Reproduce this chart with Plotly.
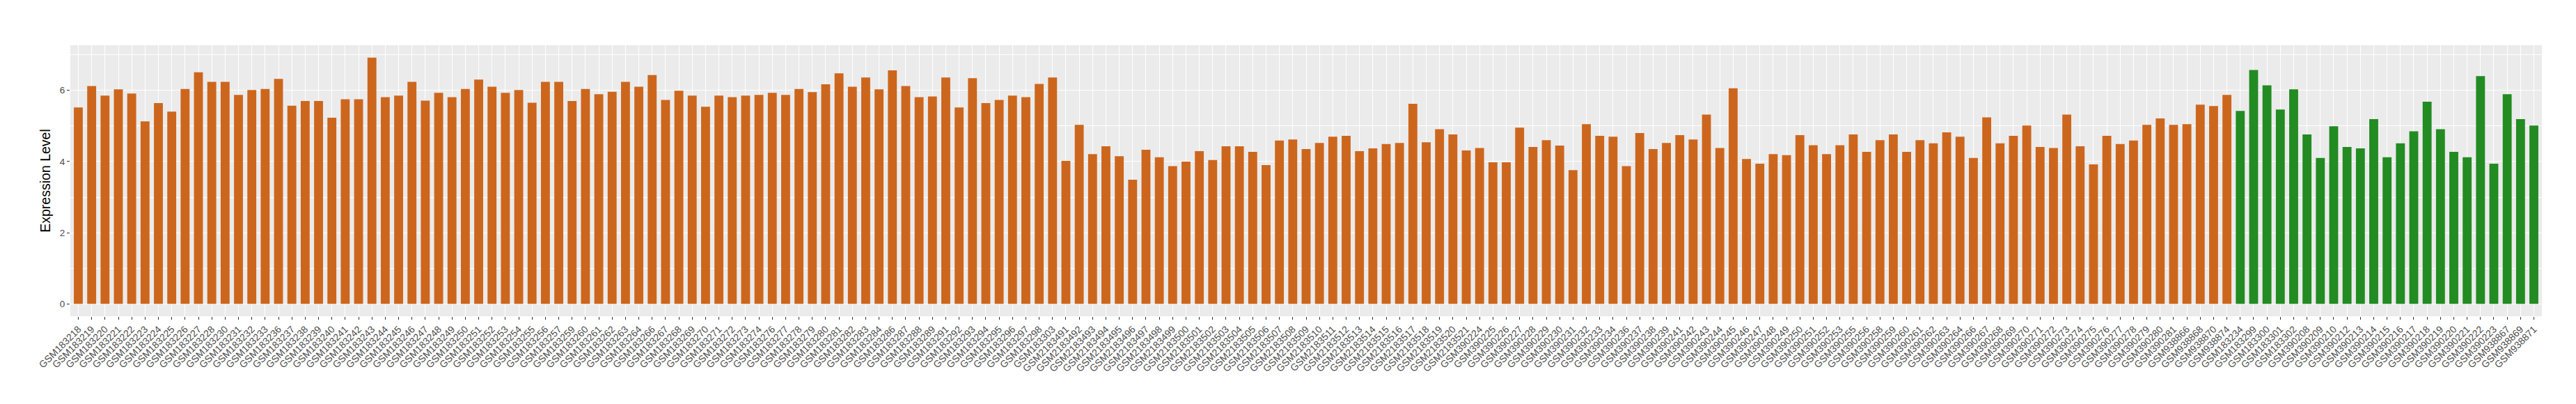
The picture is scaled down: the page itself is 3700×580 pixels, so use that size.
import plotly.graph_objects as go

samples_orange = [
    "GSM183218", "GSM183219", "GSM183220", "GSM183221", "GSM183222", "GSM183223", "GSM183224", "GSM183225",
    "GSM183226", "GSM183227", "GSM183228", "GSM183230", "GSM183231", "GSM183232", "GSM183233", "GSM183236",
    "GSM183237", "GSM183238", "GSM183239", "GSM183240", "GSM183241", "GSM183242", "GSM183243", "GSM183244",
    "GSM183245", "GSM183246", "GSM183247", "GSM183248", "GSM183249", "GSM183250", "GSM183251", "GSM183252",
    "GSM183253", "GSM183254", "GSM183255", "GSM183256", "GSM183257", "GSM183259", "GSM183260", "GSM183261",
    "GSM183262", "GSM183263", "GSM183264", "GSM183266", "GSM183267", "GSM183268", "GSM183269", "GSM183270",
    "GSM183271", "GSM183272", "GSM183273", "GSM183274", "GSM183276", "GSM183277", "GSM183278", "GSM183279",
    "GSM183280", "GSM183281", "GSM183282", "GSM183283", "GSM183284", "GSM183286", "GSM183287", "GSM183288",
    "GSM183289", "GSM183291", "GSM183292", "GSM183293", "GSM183294", "GSM183295", "GSM183296", "GSM183297",
    "GSM183298", "GSM183303",
    "GSM2183491", "GSM2183492", "GSM2183493", "GSM2183494", "GSM2183495", "GSM2183496", "GSM2183497",
    "GSM2183498", "GSM2183499", "GSM2183500", "GSM2183501", "GSM2183502", "GSM2183503", "GSM2183504",
    "GSM2183505", "GSM2183506", "GSM2183507", "GSM2183508", "GSM2183509", "GSM2183510", "GSM2183511",
    "GSM2183512", "GSM2183513", "GSM2183514", "GSM2183515", "GSM2183516", "GSM2183517", "GSM2183518",
    "GSM2183519", "GSM2183520", "GSM2183521",
    "GSM390224", "GSM390225", "GSM390226", "GSM390227", "GSM390228", "GSM390229", "GSM390230", "GSM390231",
    "GSM390232", "GSM390233", "GSM390234", "GSM390236", "GSM390237", "GSM390238", "GSM390239", "GSM390241",
    "GSM390242", "GSM390243", "GSM390244", "GSM390245", "GSM390246", "GSM390247", "GSM390248", "GSM390249",
    "GSM390250", "GSM390251", "GSM390252", "GSM390253", "GSM390255", "GSM390256", "GSM390258", "GSM390259",
    "GSM390260", "GSM390261", "GSM390262", "GSM390263", "GSM390264", "GSM390266", "GSM390267", "GSM390268",
    "GSM390269", "GSM390270", "GSM390271", "GSM390272", "GSM390273", "GSM390274", "GSM390275", "GSM390276",
    "GSM390277", "GSM390278", "GSM390279", "GSM390280", "GSM390281",
    "GSM938866", "GSM938868", "GSM938870", "GSM938874",
]

values_orange = [
    5.52, 6.12, 5.85, 6.03, 5.91, 5.13, 5.64, 5.40,
    6.04, 6.51, 6.24, 6.24, 5.87, 6.01, 6.04, 6.32,
    5.57, 5.70, 5.70, 5.23, 5.75, 5.75, 6.92, 5.81,
    5.85, 6.24, 5.71, 5.93, 5.81, 6.04, 6.30, 6.10,
    5.93, 6.01, 5.65, 6.24, 6.24, 5.70, 6.04, 5.89,
    5.96, 6.24, 6.10, 6.43, 5.73, 5.99, 5.85, 5.54,
    5.85, 5.81, 5.85, 5.87, 5.93, 5.87, 6.04, 5.95,
    6.17, 6.48, 6.10, 6.36, 6.03, 6.56, 6.12, 5.81,
    5.83, 6.36, 5.52, 6.34, 5.64, 5.73, 5.85, 5.81,
    6.18, 6.36,
    4.02, 5.03, 4.21, 4.43, 4.15, 3.49, 4.33,
    4.12, 3.87, 4.00, 4.29, 4.04, 4.43, 4.43,
    4.27, 3.90, 4.59, 4.62, 4.35, 4.52, 4.70,
    4.72, 4.29, 4.37, 4.49, 4.52, 5.62, 4.54,
    4.91, 4.76, 4.31,
    4.38, 3.98, 3.98, 4.95, 4.41, 4.60, 4.45, 3.76,
    5.05, 4.72, 4.70, 3.87, 4.80, 4.35, 4.52, 4.74,
    4.62, 5.32, 4.38, 6.06, 4.07, 3.94, 4.21, 4.18,
    4.74, 4.46, 4.21, 4.46, 4.76, 4.27, 4.60, 4.76,
    4.27, 4.60, 4.51, 4.82, 4.70, 4.10, 5.24, 4.51,
    4.72, 5.01, 4.41, 4.38, 5.32, 4.43, 3.92, 4.72,
    4.49, 4.59, 5.03, 5.21, 5.03,
    5.05, 5.60, 5.56, 5.87,
]

samples_green = [
    "GSM183234", "GSM183299", "GSM183300", "GSM183301", "GSM183302",
    "GSM390208", "GSM390209", "GSM390210", "GSM390212", "GSM390213", "GSM390214", "GSM390215",
    "GSM390216", "GSM390217", "GSM390218", "GSM390219", "GSM390220", "GSM390221", "GSM390222",
    "GSM390223", "GSM938867", "GSM938869", "GSM938871",
]

values_green = [
    5.42, 6.57, 6.14, 5.46, 6.03,
    4.76, 4.10, 4.99, 4.41, 4.37, 5.19, 4.12,
    4.51, 4.85, 5.68, 4.91, 4.27, 4.12, 6.40,
    3.94, 5.89, 5.19, 5.01,
]

y_ticks = [0, 2, 4, 6]
y_title = "Expression Level"

color_orange = "#CD661D"
color_green = "#228B22"

categories = samples_orange + samples_green
n = len(categories)
ymax = max(values_orange + values_green)

fig = go.Figure()
fig.add_trace(go.Bar(x=samples_orange, y=values_orange, marker=dict(color=color_orange, line=dict(width=0)),
                     width=0.67, showlegend=False))
fig.add_trace(go.Bar(x=samples_green, y=values_green, marker=dict(color=color_green, line=dict(width=0)),
                     width=0.67, showlegend=False))

font_family = "Liberation Sans, Arial, sans-serif"

fig.update_layout(
    width=3700, height=580,
    margin=dict(l=93, r=57, t=57, b=134),
    paper_bgcolor="white",
    plot_bgcolor="#EBEBEB",
    barmode="overlay",
    font=dict(family=font_family, size=13.5, color="#4D4D4D"),
    xaxis=dict(
        type="category",
        categoryorder="array",
        categoryarray=categories,
        range=[-0.6, n - 1 + 0.6],
        showgrid=True, gridcolor="white", gridwidth=1.3,
        ticks="outside", ticklen=4, tickwidth=1, tickcolor="#333333",
        tickangle=-45,
        tickfont=dict(family=font_family, size=14, color="#4D4D4D"),
        zeroline=False, showline=False,
    ),
    yaxis=dict(
        range=[-0.05 * ymax, 1.05 * ymax],
        tickvals=y_ticks,
        showgrid=True, gridcolor="white", gridwidth=1.3,
        minor=dict(dtick=1, tick0=0, showgrid=True, gridcolor="white", gridwidth=0.6, ticks=""),
        ticks="outside", ticklen=4, tickwidth=1, tickcolor="#333333",
        tickfont=dict(family=font_family, size=13.5, color="#4D4D4D"),
        zeroline=False, showline=False,
        title=dict(text=y_title, font=dict(family=font_family, size=19.5, color="black"), standoff=7),
    ),
)

fig.write_html("out.html")
